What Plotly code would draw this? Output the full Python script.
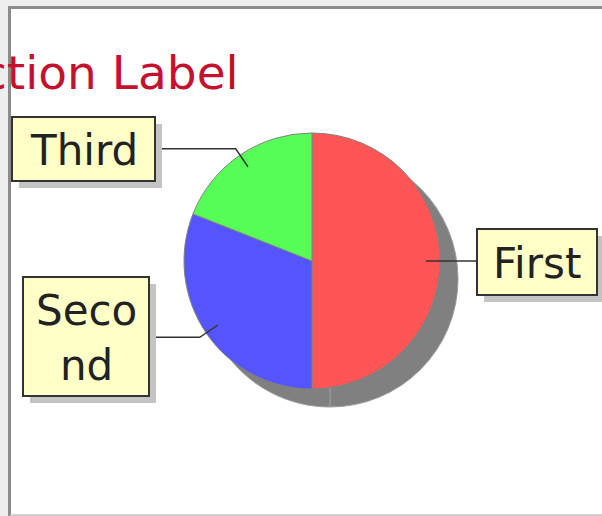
import numpy as np
import plotly.graph_objects as go

labels = ["First", "Second", "Third"]
values = [50, 31, 19]
colors = ["#FF5555", "#5555FF", "#55FF55"]
box_text = ["First", "Seco<br>nd", "Third"]
title_text = "ction Label"

W, H = 602, 516
# pie geometry in pixels (top-left origin)
cx, cy, r = 312, 261, 128
shadow_off = 18

# label boxes (x0, y0, x1, y1) in pixels
boxes = [(477, 229, 597, 295), (23, 277, 149, 396), (12, 117, 155, 181)]


def dom_x(c):
    return [(c - r) / W, (c + r) / W]


def dom_y(c):
    return [(H - c - r) / H, (H - c + r) / H]


fig = go.Figure()

# dummy trace so the hidden pixel axes exist
fig.add_trace(go.Scatter(x=[], y=[], showlegend=False, hoverinfo="skip"))

# shadow
fig.add_trace(go.Pie(
    labels=labels, values=values, sort=False, direction="clockwise", rotation=0,
    marker=dict(colors=["#808080"] * len(values), line=dict(color="#9c9c9c", width=1)),
    textinfo="none", hoverinfo="skip", showlegend=False,
    domain=dict(x=dom_x(cx + shadow_off), y=dom_y(cy + shadow_off)),
))

fig.add_trace(go.Pie(
    labels=labels, values=values, sort=False, direction="clockwise", rotation=0,
    marker=dict(colors=colors, line=dict(color="#808080", width=1)),
    textinfo="none", hoverinfo="label+value+percent", showlegend=False,
    domain=dict(x=dom_x(cx), y=dom_y(cy)),
))

shapes = [
    # chart panel
    dict(type="rect", xref="x", yref="y", x0=10, y0=8, x1=W + 5, y1=515,
         fillcolor="white", line=dict(width=0), layer="below"),
    dict(type="line", xref="x", yref="y", x0=9.5, y0=6.5, x1=9.5, y1=H + 2,
         line=dict(color="#8c8c8c", width=3), layer="below"),
    dict(type="line", xref="x", yref="y", x0=8, y0=7.5, x1=W + 2, y1=7.5,
         line=dict(color="#8c8c8c", width=3), layer="below"),
    dict(type="line", xref="x", yref="y", x0=10, y0=515, x1=W + 2, y1=515,
         line=dict(color="#c4c4c4", width=1.5), layer="below"),
]

annotations = []

# leader lines and label boxes, anchored on each slice's mid angle
fracs = np.array(values) / np.sum(values)
mids = (np.cumsum(fracs) - fracs / 2) * 2 * np.pi
for ang, (x0, y0, x1, y1), txt in zip(mids, boxes, box_text):
    sx, sy = np.sin(ang), -np.cos(ang)
    ax_, ay_ = cx + 0.89 * r * sx, cy + 0.89 * r * sy
    ex, ey = cx + 1.06 * r * sx, cy + 1.06 * r * sy
    bx = x0 if sx > 0 else x1
    shapes.append(dict(type="path", xref="x", yref="y",
                       path=f"M{ax_:.1f},{ay_:.1f} L{ex:.1f},{ey:.1f} L{bx},{ey:.1f}",
                       line=dict(color="#333333", width=1.5), layer="above"))
    shapes.append(dict(type="rect", xref="x", yref="y", x0=x0 + 7, y0=y0 + 7, x1=x1 + 7, y1=y1 + 7,
                       fillcolor="#c4c4c4", line=dict(width=0), layer="above"))
    shapes.append(dict(type="rect", xref="x", yref="y", x0=x0, y0=y0, x1=x1, y1=y1,
                       fillcolor="#FFFFC8", line=dict(color="#333333", width=2), layer="above"))
    annotations.append(dict(x=(x0 + x1) / 2, y=(y0 + y1) / 2 + 1, xref="x", yref="y",
                            text=txt, showarrow=False, xanchor="center", yanchor="middle",
                            font=dict(family="DejaVu Sans", size=42, color="#222222")))

annotations.append(dict(x=241, y=72, xref="x", yref="y", text=title_text, showarrow=False,
                        xanchor="right", yanchor="middle",
                        font=dict(family="DejaVu Sans", size=47, color="#C4122E")))

fig.update_layout(
    width=W, height=H,
    margin=dict(l=0, r=0, t=0, b=0),
    paper_bgcolor="#EEEEEE",
    plot_bgcolor="rgba(0,0,0,0)",
    xaxis=dict(range=[0, W], visible=False, fixedrange=True),
    yaxis=dict(range=[H, 0], visible=False, fixedrange=True),
    shapes=shapes,
    annotations=annotations,
    showlegend=False,
)

# drop the page's default body margin so the figure sits at the window corner
fig.write_html("out.html", config={"displayModeBar": False},
               post_script="document.body.style.margin='0';")
